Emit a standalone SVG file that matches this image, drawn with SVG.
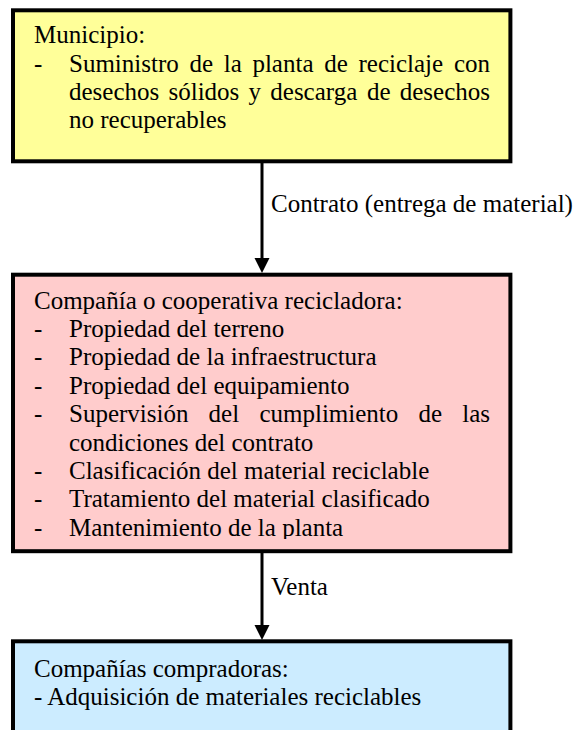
<svg xmlns="http://www.w3.org/2000/svg" width="574" height="730" viewBox="0 0 574 730">
<style>
.box{stroke:#000;stroke-width:4}
.t{font-family:"Liberation Serif","Times New Roman",serif;font-size:25px;fill:#000}
.e{text-anchor:end}
.conn{stroke:#000;stroke-width:3;fill:none}
</style>
<defs>
<clipPath id="pinkclip"><rect x="15" y="277" width="493" height="262"/></clipPath>
</defs>
<rect width="574" height="730" fill="#fff"/>
<g id="municipio">
<rect class="box" x="13" y="10.3" width="497.4" height="151" fill="#FFFF99"/>
<text class="t" x="34" y="43.3">Municipio:</text>
<text class="t" x="34" y="71.7">-</text>
<text class="t" y="71.7"><tspan x="69">Suministro</tspan><tspan x="189.4">de</tspan><tspan x="223.7">la</tspan><tspan x="252.4">planta</tspan><tspan x="324.2">de</tspan><tspan x="358.5">reciclaje</tspan></text>
<text class="t e" x="490" y="71.7">con</text>
<text class="t" y="100"><tspan x="69">desechos</tspan><tspan x="168.5">sólidos</tspan><tspan x="248.5">y</tspan><tspan x="270.3">descarga</tspan><tspan x="366.9">de</tspan></text>
<text class="t e" x="490" y="100">desechos</text>
<text class="t" x="69" y="128.3">no recuperables</text>
</g>
<g id="compania">
<rect class="box" x="13" y="274.7" width="497.4" height="276.5" fill="#FFCCCC"/>
<g clip-path="url(#pinkclip)">
<text class="t" x="34" y="308.5">Compañía o cooperativa recicladora:</text>
<text class="t" x="34" y="336.9">-</text><text class="t" x="69" y="336.9">Propiedad del terreno</text>
<text class="t" x="34" y="365.3">-</text><text class="t" x="69" y="365.3">Propiedad de la infraestructura</text>
<text class="t" x="34" y="393.7">-</text><text class="t" x="69" y="393.7">Propiedad del equipamiento</text>
<text class="t" x="34" y="422.1">-</text>
<text class="t" y="422.1"><tspan x="69">Supervisión</tspan><tspan x="208.6">del</tspan><tspan x="259.4">cumplimiento</tspan><tspan x="418.4">de</tspan></text>
<text class="t e" x="490" y="422.1">las</text>
<text class="t" x="69" y="450.5">condiciones del contrato</text>
<text class="t" x="34" y="478.9">-</text><text class="t" x="69" y="478.9">Clasificación del material reciclable</text>
<text class="t" x="34" y="507.3">-</text><text class="t" x="69" y="507.3">Tratamiento del material clasificado</text>
<text class="t" x="34" y="535.7">-</text><text class="t" x="69" y="535.7">Mantenimiento de la planta</text>
</g>
</g>
<g id="compradoras">
<rect class="box" x="13" y="641.3" width="497.4" height="120" fill="#CCECFF"/>
<text class="t" x="34" y="676.5">Compañías compradoras:</text>
<text class="t" x="34" y="705">- Adquisición de materiales reciclables</text>
</g>
<g id="connectors">
<line class="conn" x1="262" y1="163" x2="262" y2="259"/>
<polygon points="254.5,258 269.5,258 262,273" fill="#000"/>
<text class="t" x="271" y="212">Contrato (entrega de material)</text>
<line class="conn" x1="262" y1="553" x2="262" y2="626"/>
<polygon points="254.5,625 269.5,625 262,640" fill="#000"/>
<text class="t" x="271" y="595">Venta</text>
</g>
</svg>
